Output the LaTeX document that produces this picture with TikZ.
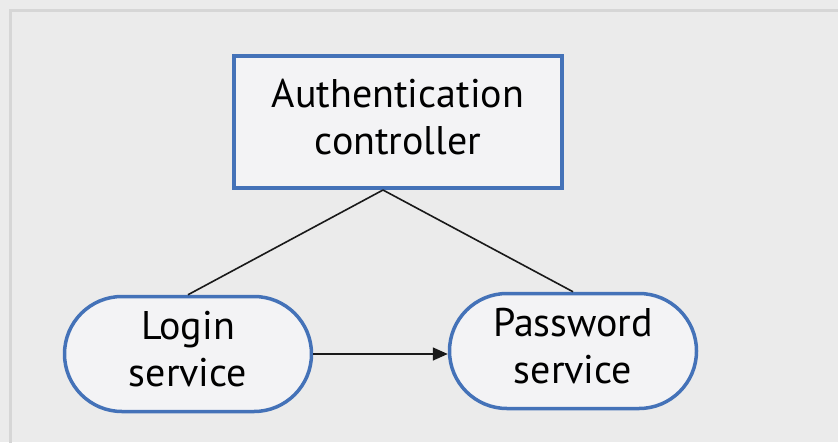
\documentclass[tikz,border=0pt]{standalone}
\usepackage{fontspec}
\setmainfont{PT Sans}
\usetikzlibrary{shapes.misc,arrows.meta}
\definecolor{bg}{HTML}{EBEBEB}
\definecolor{framec}{HTML}{D6D6D6}
\definecolor{boxfill}{HTML}{F3F3F5}
\definecolor{boxblue}{HTML}{4472B8}
\tikzset{
  box/.style={draw=boxblue, line width=3.5pt, fill=boxfill, align=center,
    font=\fontsize{40}{47}\selectfont, inner sep=0pt, text depth=10pt},
  ctrl/.style={box, rectangle, minimum width=328pt, minimum height=132pt},
  svc/.style={box, rounded rectangle, minimum width=247pt, minimum height=115pt},
  conn/.style={line width=1.6pt, draw=black!90},
}
\begin{document}
\begin{tikzpicture}[x=1pt,y=-1pt]
  \fill[bg] (0,0) rectangle (838,442);
  \useasboundingbox (0,0) rectangle (838,442);
  \draw[framec, line width=3pt] (10,450) -- (10,10) -- (850,10);
  \node[ctrl] (auth) at (398,122) {Authentication\\controller};
  \node[svc] (login) at (188,354) {Login\\service};
  \node[svc] (pass) at (573,351) {Password\\service};
  \coordinate (apex) at (383,190);
  \draw[conn] (apex) -- (login.north);
  \draw[conn] (apex) -- (pass.north);
  \draw[conn, -{Triangle[length=15pt,width=13pt]}] (login.east) -- (pass.west |- login.east);
\end{tikzpicture}
\end{document}
